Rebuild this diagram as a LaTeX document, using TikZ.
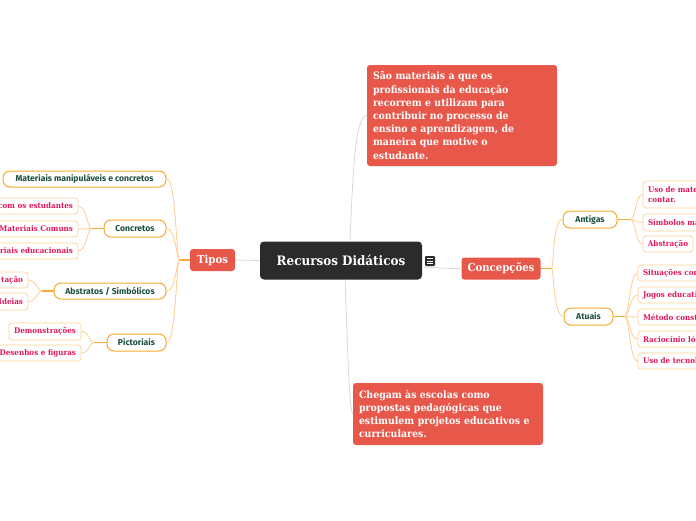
\documentclass[tikz,border=0pt]{standalone}
\usepackage{fontspec}
\newfontfamily\slab{DejaVu Serif}[FakeStretch=0.92]
\newfontfamily\gsans{Fira Sans}
\usetikzlibrary{calc}
\definecolor{boxred}{HTML}{E8584A}
\definecolor{darkroot}{HTML}{2B2B2B}
\definecolor{orng}{HTML}{F9A932}
\definecolor{lorng}{HTML}{FDD29E}
\definecolor{gtext}{HTML}{1D4F3F}
\definecolor{leafred}{HTML}{E0185A}
\definecolor{gline}{HTML}{D8D8D8}
\tikzset{
  redbox/.style={fill=boxred, rounded corners=3pt, text=white, inner sep=0pt},
  gnode/.style={draw=orng, line width=1pt, fill=white, rounded corners=7pt, text=gtext,
    font=\gsans\bfseries\fontsize{8.6}{9}\selectfont, inner sep=0pt},
  leaf/.style={draw=lorng, line width=0.8pt, fill=white, rounded corners=3pt, text=leafred,
    font=\slab\bfseries\fontsize{7.8}{9}\selectfont, inner ysep=0pt, inner xsep=5pt},
  cutl/.style={leaf, align=right},
  cutr/.style={leaf, align=left},
  grayline/.style={draw=gline, line width=0.8pt},
  stub/.style={draw=orng, line width=1.2pt},
  curve/.style={draw=lorng, line width=0.9pt},
}
\begin{document}
\begin{tikzpicture}[x=1pt,y=-1pt]
\useasboundingbox (0,0) rectangle (696,520);
\clip (0,0) rectangle (696,520);
\fill[white] (0,0) rectangle (696,520);

% ---------- gray connectors from root ----------
\coordinate (rtop) at (350,241);
\coordinate (rbot) at (345,280);
\coordinate (reast) at (424,267);

% ---------- root ----------
\node[fill=darkroot, rounded corners=4pt, minimum width=162pt, minimum height=38pt, inner sep=0pt,
  text=white, font=\slab\bfseries\fontsize{13}{15}\selectfont] (root) at (341,260.5) {Recursos Didáticos};
\node[fill=darkroot, rounded corners=1.2pt, minimum width=10pt, minimum height=10pt, inner sep=0pt] (icon) at (430,261) {};
\draw[white, line width=0.7pt] ($(icon.center)+(-2.6,-2.3)$) -- ++(5.2,0)
  ($(icon.center)+(-2.6,0)$) -- ++(5.2,0) ($(icon.center)+(-2.6,2.3)$) -- ++(5.2,0);

% ---------- main red boxes ----------
\node[redbox, minimum width=190pt, minimum height=101pt, text width=178pt, inner xsep=6pt, align=left,
  font=\slab\bfseries\fontsize{10.2}{13.2}\selectfont] (topbox) at (462,115.5)
  {São materiais a que os\\profissionais da educação\\recorrem e utilizam para\\contribuir no processo de\\ensino e aprendizagem, de\\maneira que motive o\\estudante.};
\node[redbox, minimum width=190pt, minimum height=62pt, text width=178pt, inner xsep=6pt, align=left,
  font=\slab\bfseries\fontsize{10.2}{12.7}\selectfont] (botbox) at (448,414)
  {Chegam às escolas como\\propostas pedagógicas que\\estimulem projetos educativos e\\curriculares.};
\node[redbox, minimum width=45pt, minimum height=22pt, font=\slab\bfseries\fontsize{11}{13}\selectfont] (tipos) at (212.5,260) {Tipos};
\node[redbox, minimum width=79pt, minimum height=22pt, font=\slab\bfseries\fontsize{11}{13}\selectfont] (concep) at (501,268.5) {Concepções};

\draw[grayline] (rtop) .. controls (353,170) and (355,117) .. (topbox.west);
\draw[grayline] (rbot) .. controls (347,330) and (349,410) .. (botbox.west);
\draw[grayline] (tipos.east) -- (root.west);
\draw[grayline] (reast) .. controls (440,268) and (450,268.5) .. (concep.west);

% ---------- left side ----------
\node[gnode, minimum width=163pt, minimum height=16pt] (mm) at (84.5,179) {Materiais manipuláveis e concretos};
\node[gnode, minimum width=62pt, minimum height=17pt] (conc) at (135,228.5) {Concretos};
\node[gnode, minimum width=112pt, minimum height=16pt] (abs) at (110,291) {Abstratos / Simbólicos};
\node[gnode, minimum width=59pt, minimum height=17pt] (pic) at (136.5,342.5) {Pictoriais};

\node[cutl, text width=108pt, minimum height=16pt] (c1) at (19,206) {com os estudantes};
\node[cutl, text width=108pt, minimum height=16pt] (c2) at (19,229) {Materiais Comuns};
\node[cutl, text width=108pt, minimum height=16pt] (c3) at (19,251) {riais educacionais};
\node[cutl, text width=78pt, minimum height=16pt] (a1) at (-16,280) {tação};
\node[cutl, text width=78pt, minimum height=17pt] (a2) at (-16,301.5) {Ideias};
\node[leaf, minimum width=72pt, minimum height=17pt] (p1) at (45,331.5) {Demonstrações};
\node[cutl, text width=91pt, minimum height=16pt] (p2) at (30.5,353) {Desenhos e figuras};

\draw[stub] (tipos.west) -- ++(-10,0) coordinate (jt);
\foreach \c in {mm,conc,abs,pic}
  \draw[curve] (jt) .. controls +(-4,0) and +(10,0) .. (\c.east);
\draw[stub] (conc.west) -- ++(-12,0) coordinate (jc);
\foreach \c in {c1,c2,c3}
  \draw[curve] (jc) .. controls +(-4,0) and +(8,0) .. (\c.east);
\draw[stub] (abs.west) -- ++(-12,0) coordinate (ja);
\foreach \c in {a1,a2}
  \draw[curve] (ja) .. controls +(-4,0) and +(8,0) .. (\c.east);
\draw[stub] (pic.west) -- ++(-13,0) coordinate (jp);
\foreach \c in {p1,p2}
  \draw[curve] (jp) .. controls +(-4,0) and +(8,0) .. (\c.east);

% ---------- right side ----------
\node[gnode, minimum width=54pt, minimum height=17pt] (ant) at (590,219.5) {Antigas};
\node[gnode, minimum width=49pt, minimum height=17pt] (atu) at (588.5,316.5) {Atuais};

\node[cutr, text width=107pt, minimum height=27pt, font=\slab\bfseries\fontsize{7.8}{10.5}\selectfont] (r1) at (701.5,194.5) {Uso de mate\\contar.};
\node[cutr, text width=107pt, minimum height=17pt] (r2) at (701.5,222.5) {Símbolos ma};
\node[leaf, minimum width=50pt, minimum height=16pt] (r3) at (668,244) {Abstração};

\node[cutr, text width=112pt, minimum height=16pt] (s1) at (699,273) {Situações com};
\node[cutr, text width=112pt, minimum height=16pt] (s2) at (699,295) {Jogos educati};
\node[cutr, text width=112pt, minimum height=16pt] (s3) at (699,317) {Método const};
\node[cutr, text width=112pt, minimum height=16pt] (s4) at (699,339) {Raciocínio ló};
\node[cutr, text width=112pt, minimum height=16pt] (s5) at (699,361) {Uso de tecnol};

\draw[stub] (concep.east) -- ++(11,0) coordinate (jk);
\foreach \c in {ant,atu}
  \draw[curve] (jk) .. controls +(2,0) and +(-10,0) .. (\c.west);
\draw[stub] (ant.east) -- ++(13,0) coordinate (jn);
\foreach \c in {r1,r2,r3}
  \draw[curve] (jn) .. controls +(5,0) and +(-7,0) .. (\c.west);
\draw[stub] (atu.east) -- ++(11,0) coordinate (ju);
\foreach \c in {s1,s2,s3,s4,s5}
  \draw[curve] (ju) .. controls +(5,0) and +(-8,0) .. (\c.west);
\end{tikzpicture}
\end{document}
